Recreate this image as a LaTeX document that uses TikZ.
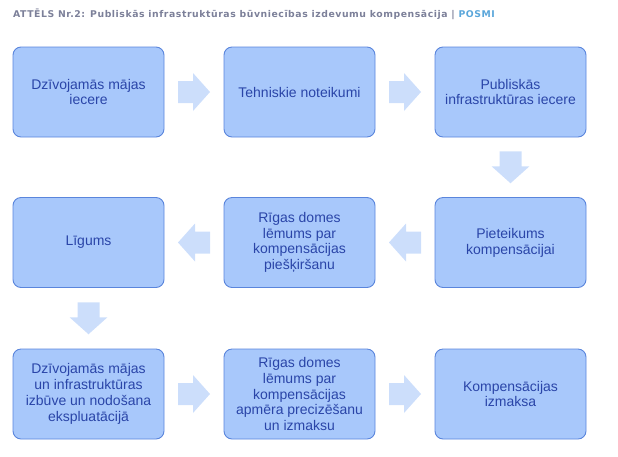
\documentclass[tikz,border=0pt]{standalone}
\usepackage{fontspec}
\setmainfont{Liberation Sans}
\newfontfamily\titlefont[LetterSpace=6]{DejaVu Sans}
\usetikzlibrary{calc}
\definecolor{boxfill}{HTML}{A8C8FB}
\definecolor{boxline}{HTML}{5A85DC}
\definecolor{boxtext}{HTML}{2A45A8}
\definecolor{arrowfill}{HTML}{CCDEFB}
\definecolor{titlegray}{HTML}{7C8099}
\definecolor{titleblue}{HTML}{5AA6DA}
\tikzset{
  stepbox/.style={draw=boxline, line width=0.9pt, fill=boxfill, rounded corners=8pt,
    minimum width=151pt, minimum height=90pt, inner sep=2pt, align=center,
    text=boxtext, font=\fontsize{14}{15.8}\selectfont},
  blockarrow/.pic={\fill[arrowfill] (-16,-11) -- (-1,-11) -- (-1,-19) -- (16,0) -- (-1,19) -- (-1,11) -- (-16,11) -- cycle;}
}
\begin{document}
\begin{tikzpicture}[x=1pt,y=-1pt]
\useasboundingbox (0,0) rectangle (618,456);
\node[anchor=base west, inner sep=0, font=\titlefont\bfseries\fontsize{9.3}{11}\selectfont] (title) at (13,17)
  {\textcolor{titlegray}{ATTĒLS Nr.2: Publiskās infrastruktūras būvniecības izdevumu kompensācija |} \textcolor{titleblue}{POSMI}};
\node[stepbox] (b1) at (88.5,92) {Dzīvojamās mājas\\iecere};
\node[stepbox] (b2) at (299.5,92) {Tehniskie noteikumi};
\node[stepbox] (b3) at (510.5,92) {Publiskās\\infrastruktūras iecere};
\node[stepbox] (b4) at (510.5,242.5) {Pieteikums\\kompensācijai};
\node[stepbox] (b5) at (299.5,242.5) {Rīgas domes\\lēmums par\\kompensācijas\\piešķiršanu};
\node[stepbox] (b6) at (88.5,242.5) {Līgums};
\node[stepbox] (b7) at (88.5,394) {Dzīvojamās mājas\\un infrastruktūras\\izbūve un nodošana\\ekspluatācijā};
\node[stepbox] (b8) at (299.5,394) {Rīgas domes\\lēmums par\\kompensācijas\\apmēra precizēšanu\\un izmaksu};
\node[stepbox] (b9) at (510.5,394) {Kompensācijas\\izmaksa};
\pic at ($(b1.east)!0.5!(b2.west)$) {blockarrow};
\pic at ($(b2.east)!0.5!(b3.west)$) {blockarrow};
\pic[rotate=-90] at ($(b3.south)!0.5!(b4.north)$) {blockarrow};
\pic[rotate=180] at ($(b4.west)!0.5!(b5.east)$) {blockarrow};
\pic[rotate=180] at ($(b5.west)!0.5!(b6.east)$) {blockarrow};
\pic[rotate=-90] at ($(b6.south)!0.5!(b7.north)$) {blockarrow};
\pic at ($(b7.east)!0.5!(b8.west)$) {blockarrow};
\pic at ($(b8.east)!0.5!(b9.west)$) {blockarrow};
\end{tikzpicture}
\end{document}
